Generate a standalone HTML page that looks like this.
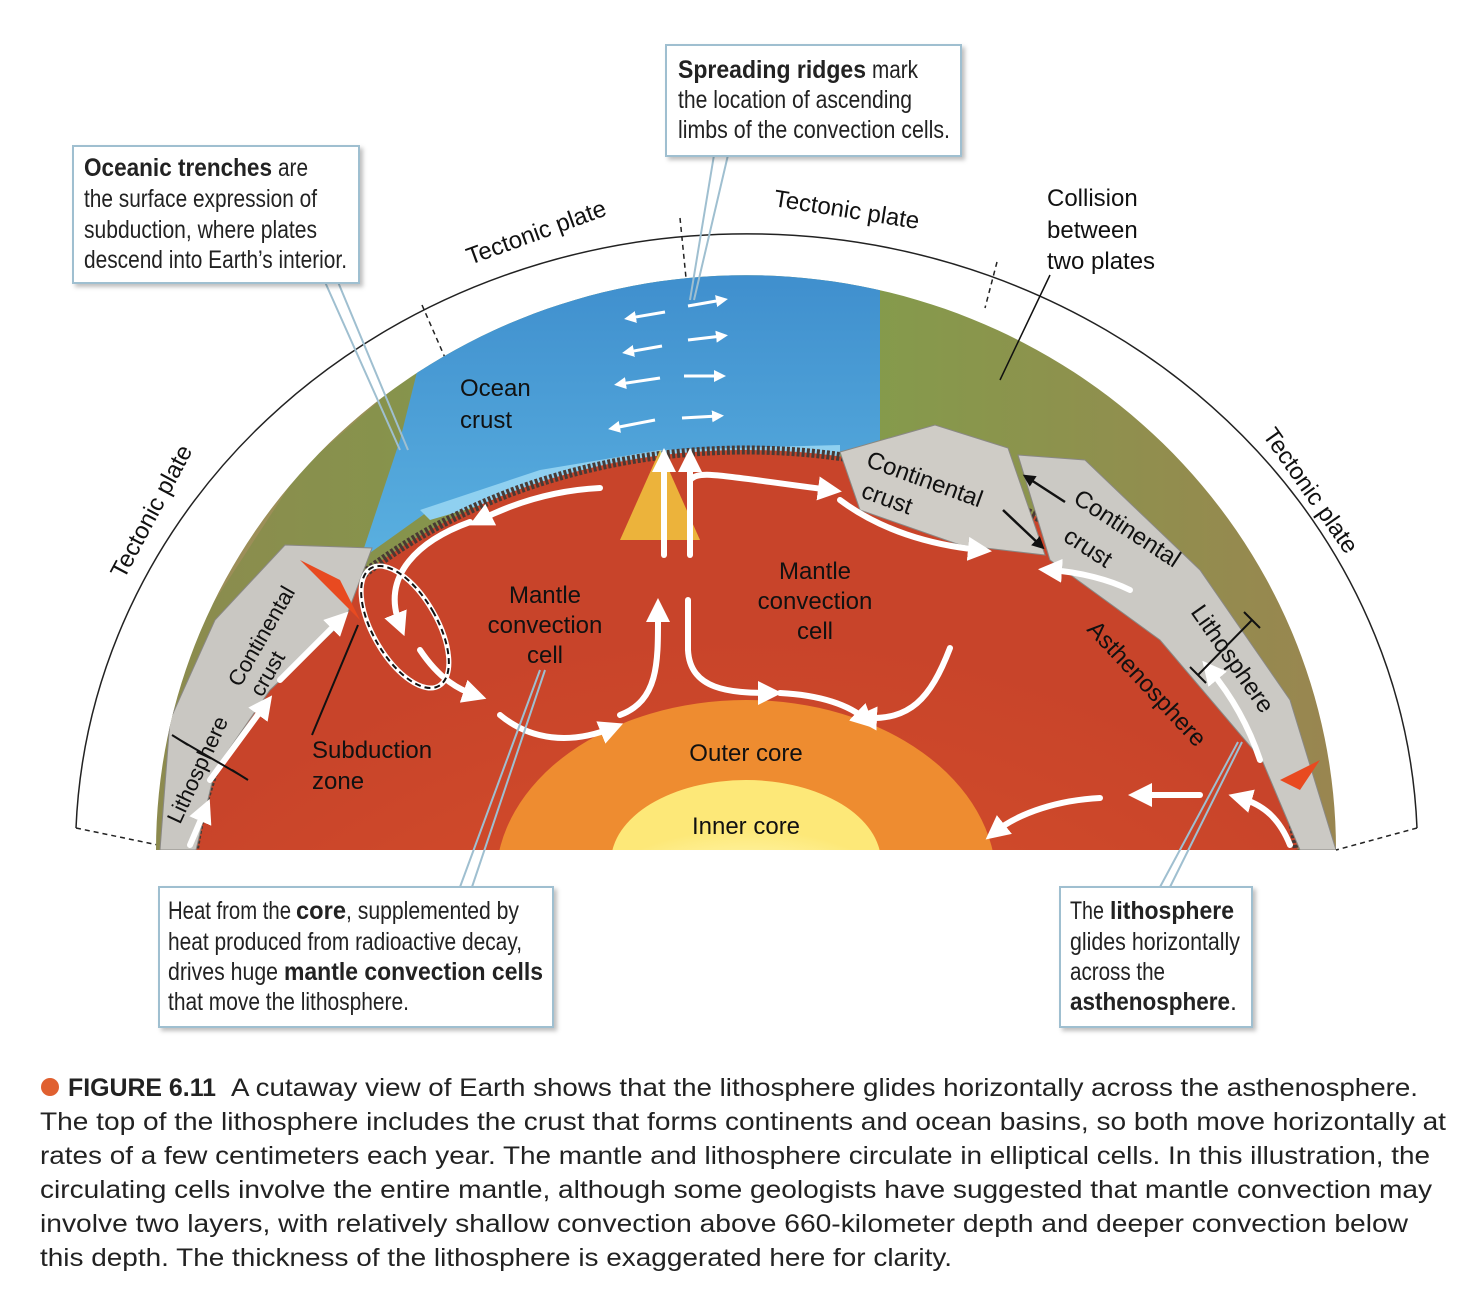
<!DOCTYPE html>
<html><head><meta charset="utf-8"><style>
body{margin:0;background:#fff;width:1484px;height:1296px;overflow:hidden;position:relative;font-family:"Liberation Sans",sans-serif}
</style></head><body>
<svg width="1484" height="1296" style="position:absolute;left:0;top:0">
<defs>
<clipPath id="earth"><path d="M156,850 A590,575 0 0 1 1336,850 Z"/></clipPath>
<linearGradient id="land" x1="0" y1="0" x2="1" y2="0"><stop offset="0" stop-color="#8c8a4e"/><stop offset="0.5" stop-color="#7fa04a"/><stop offset="1" stop-color="#9a8550"/></linearGradient>
<linearGradient id="sea" x1="0" y1="0" x2="0" y2="1"><stop offset="0" stop-color="#3d8ccc"/><stop offset="1" stop-color="#5ab0e0"/></linearGradient>
<radialGradient id="mantle" cx="0.5" cy="0.9" r="0.7"><stop offset="0" stop-color="#e0562a"/><stop offset="1" stop-color="#c8442a"/></radialGradient>
<radialGradient id="outer" cx="0.5" cy="0.95" r="0.6"><stop offset="0" stop-color="#ffe070"/><stop offset="0.6" stop-color="#f6b840"/><stop offset="1" stop-color="#ee8c30"/></radialGradient>
<radialGradient id="inner" cx="0.5" cy="1" r="0.7"><stop offset="0" stop-color="#ffffff"/><stop offset="0.5" stop-color="#fffbc0"/><stop offset="1" stop-color="#fde878"/></radialGradient>
<marker id="ah" markerWidth="4" markerHeight="4" refX="2" refY="2" orient="auto" markerUnits="strokeWidth"><path d="M0,0 L4,2 L0,4 Z" fill="#fff"/></marker>
<marker id="bh" markerWidth="5" markerHeight="5" refX="2.5" refY="2.5" orient="auto" markerUnits="strokeWidth"><path d="M0,0 L5,2.5 L0,5 Z" fill="#111"/></marker>
<filter id="sh"><feDropShadow dx="3" dy="3" stdDeviation="2" flood-opacity="0.25"/></filter>
</defs>
<path d="M76,828 A671,618 0 0 1 1417,828" fill="none" stroke="#222" stroke-width="1.5"/>
<path d="M76,828 L158,845 M1417,828 L1336,850" stroke="#222" stroke-width="1.5" stroke-dasharray="5,4"/>
<path d="M422,305 L446,360 M680,218 L686,278 M997,262 L985,308" stroke="#222" stroke-width="1.5" stroke-dasharray="5,4"/>
<g clip-path="url(#earth)">
<rect x="150" y="200" width="1200" height="650" fill="url(#land)"/>
<path d="M150,700 L300,470 L380,400 L430,330 L300,300 Z" fill="#a89060" opacity="0.6"/>
<path d="M1050,300 L1200,420 L1340,700 L1340,300 Z" fill="#a89060" opacity="0.45"/>
<path d="M360,560 L400,440 L440,280 L880,250 L880,440 L840,452 L660,455 L540,480 L430,510 Z" fill="url(#sea)"/>
<path d="M420,510 L540,470 L660,450 L840,445 L840,460 L660,462 L540,488 L430,520 Z" fill="#8fd0f0"/>
<ellipse cx="746" cy="900" rx="555" ry="450" fill="url(#mantle)"/>
<ellipse cx="746" cy="900" rx="555" ry="450" fill="none" stroke="#4a3a34" stroke-width="9" stroke-dasharray="3,2"/>
<path d="M160,850 L170,720 L215,620 L285,545 L372,548 L345,620 L270,690 L215,770 L196,850 Z" fill="#c9c7c2" stroke="#8a8884" stroke-width="1"/>
<path d="M840,452 L935,425 L1008,448 L1045,555 L960,545 L860,510 Z" fill="#cfccc6" stroke="#8a8884"/>
<path d="M1018,455 L1085,460 L1200,570 L1290,700 L1336,850 L1300,850 L1262,760 L1160,640 L1050,560 Z" fill="#cbc9c4" stroke="#8a8884"/>
<ellipse cx="746" cy="880" rx="250" ry="180" fill="url(#outer)"/>
<ellipse cx="746" cy="862" rx="135" ry="82" fill="url(#inner)"/>
<path d="M300,560 L360,620 L340,580 Z M1280,780 L1320,760 L1300,790 Z" fill="#e84a20"/>
<path d="M620,540 L660,450 L700,540 Z" fill="#f5d040" opacity="0.8"/>
</g>
<g stroke="#fff" stroke-width="3" fill="none" marker-end="url(#ah)">
<path d="M665,312 L630,318"/><path d="M688,306 L722,300"/>
<path d="M662,346 L628,352"/><path d="M688,340 L722,336"/>
<path d="M660,378 L620,384"/><path d="M684,376 L720,376"/>
<path d="M655,420 L614,428"/><path d="M682,418 L718,416"/>
</g>
<g stroke="#fff" stroke-width="6" fill="none" marker-end="url(#ah)" stroke-linecap="round">
<path d="M190,845 L205,810"/><path d="M210,780 L265,705"/><path d="M280,680 L340,620"/>
<path d="M600,488 C560,490 520,500 480,520"/>
<path d="M470,522 C420,540 380,575 400,625"/>
<path d="M420,650 C440,680 460,690 475,695"/>
<path d="M500,715 C530,740 570,745 612,728"/>
<path d="M620,715 C660,700 658,660 658,610"/>
<path d="M664,555 L664,460"/><path d="M690,555 L690,460"/>
<path d="M688,600 L688,650 C690,690 730,693 770,693"/>
<path d="M780,693 C820,695 850,705 866,720"/>
<path d="M950,648 C930,700 910,720 865,718"/>
<path d="M690,480 C700,470 715,475 830,490"/>
<path d="M840,500 C880,530 930,545 980,550"/>
<path d="M1130,590 C1110,580 1080,572 1050,570"/>
<path d="M1260,760 C1250,730 1235,700 1210,670"/>
<path d="M1200,795 L1140,795"/>
<path d="M1100,798 C1060,800 1020,812 995,832"/>
<path d="M1290,845 C1280,820 1265,805 1240,798"/>
</g>
<ellipse cx="405" cy="627" rx="32" ry="68" transform="rotate(-30 405 627)" fill="none" stroke="#fff" stroke-width="5"/>
<ellipse cx="405" cy="627" rx="32" ry="68" transform="rotate(-30 405 627)" fill="none" stroke="#111" stroke-width="2" stroke-dasharray="6,4"/>
<g stroke="#111" stroke-width="2.5" fill="none" marker-end="url(#bh)">
<path d="M1065,502 L1028,478"/><path d="M1003,510 L1040,545"/>
</g>
<g stroke="#9fbfd0" stroke-width="2" fill="none">
<path d="M325,282 L400,450 M338,282 L408,450"/>
<path d="M714,155 L690,300 M728,155 L694,300"/>
<path d="M460,887 L540,670 M472,887 L545,670"/>
<path d="M1160,887 L1238,742 M1170,887 L1242,742"/>
</g>
<path d="M1050,275 L1000,380" stroke="#111" stroke-width="1.5"/>
<path d="M358,625 L312,735" stroke="#111" stroke-width="2"/>
<g stroke="#111" stroke-width="2"><path d="M180,740 L240,775 M172,735 L188,745 M232,770 L248,780"/><path d="M1252,620 L1198,675 M1244,612 L1260,628 M1190,667 L1206,683"/></g>
<g font-family="Liberation Sans, sans-serif" font-size="24" fill="#111">
<text x="460" y="396">Ocean</text><text x="460" y="428">crust</text>
<text x="545" y="603" text-anchor="middle">Mantle</text><text x="545" y="633" text-anchor="middle">convection</text><text x="545" y="663" text-anchor="middle">cell</text>
<text x="815" y="579" text-anchor="middle">Mantle</text><text x="815" y="609" text-anchor="middle">convection</text><text x="815" y="639" text-anchor="middle">cell</text>
<text x="746" y="761" text-anchor="middle">Outer core</text>
<text x="746" y="834" text-anchor="middle">Inner core</text>
<text x="312" y="758">Subduction</text><text x="312" y="789">zone</text>
<text x="1047" y="206">Collision</text><text x="1047" y="238">between</text><text x="1047" y="269">two plates</text>
<text transform="translate(124,580) rotate(-62)">Tectonic plate</text>
<text transform="translate(470,265) rotate(-20)">Tectonic plate</text>
<text transform="translate(773,206) rotate(9)">Tectonic plate</text>
<text transform="translate(1262,435) rotate(55)">Tectonic plate</text>
<text transform="translate(240,688) rotate(-60)" font-size="22">Continental</text>
<text transform="translate(262,698) rotate(-60)" font-size="22">crust</text>
<text transform="translate(180,825) rotate(-65)" font-size="22">Lithosphere</text>
<text transform="translate(865,466) rotate(20)">Continental</text>
<text transform="translate(860,497) rotate(20)">crust</text>
<text transform="translate(1072,502) rotate(33)">Continental</text>
<text transform="translate(1062,540) rotate(33)">crust</text>
<text transform="translate(1190,612) rotate(55)">Lithosphere</text>
<text transform="translate(1086,630) rotate(47)">Asthenosphere</text>
</g>
<g fill="#fff" stroke="#9fbfd0" stroke-width="2" filter="url(#sh)">
<rect x="73" y="146" width="286" height="137"/>
<rect x="666" y="45" width="295" height="111"/>
<rect x="159" y="887" width="394" height="140"/>
<rect x="1060" y="887" width="192" height="140"/>
</g>
<g font-family="Liberation Sans, sans-serif" font-size="25" fill="#222">
<text x="84" y="176" font-weight="bold" textLength="188" lengthAdjust="spacingAndGlyphs">Oceanic trenches</text>
<text x="278" y="176" textLength="30" lengthAdjust="spacingAndGlyphs">are</text>
<text x="84" y="207" textLength="233" lengthAdjust="spacingAndGlyphs">the surface expression of</text>
<text x="84" y="238" textLength="233" lengthAdjust="spacingAndGlyphs">subduction, where plates</text>
<text x="84" y="268" textLength="263" lengthAdjust="spacingAndGlyphs">descend into Earth’s interior.</text>
<text x="678" y="78" font-weight="bold" textLength="188" lengthAdjust="spacingAndGlyphs">Spreading ridges</text>
<text x="872" y="78" textLength="46" lengthAdjust="spacingAndGlyphs">mark</text>
<text x="678" y="108" textLength="234" lengthAdjust="spacingAndGlyphs">the location of ascending</text>
<text x="678" y="138" textLength="272" lengthAdjust="spacingAndGlyphs">limbs of the convection cells.</text>
<text x="168" y="919" textLength="123" lengthAdjust="spacingAndGlyphs">Heat from the</text>
<text x="296" y="919" font-weight="bold" textLength="50" lengthAdjust="spacingAndGlyphs">core</text>
<text x="346" y="919" textLength="173" lengthAdjust="spacingAndGlyphs">, supplemented by</text>
<text x="168" y="950" textLength="354" lengthAdjust="spacingAndGlyphs">heat produced from radioactive decay,</text>
<text x="168" y="980" textLength="110" lengthAdjust="spacingAndGlyphs">drives huge</text>
<text x="284" y="980" font-weight="bold" textLength="259" lengthAdjust="spacingAndGlyphs">mantle convection cells</text>
<text x="168" y="1010" textLength="241" lengthAdjust="spacingAndGlyphs">that move the lithosphere.</text>
<text x="1070" y="919" textLength="34" lengthAdjust="spacingAndGlyphs">The</text>
<text x="1110" y="919" font-weight="bold" textLength="124" lengthAdjust="spacingAndGlyphs">lithosphere</text>
<text x="1070" y="950" textLength="170" lengthAdjust="spacingAndGlyphs">glides horizontally</text>
<text x="1070" y="980" textLength="95" lengthAdjust="spacingAndGlyphs">across the</text>
<text x="1070" y="1010" font-weight="bold" textLength="160" lengthAdjust="spacingAndGlyphs">asthenosphere</text>
<text x="1230" y="1010">.</text>
</g>
<circle cx="50" cy="1087" r="9" fill="#e06030"/>
<g font-family="Liberation Sans, sans-serif" font-size="25" fill="#222">
<text x="68" y="1096" font-weight="bold" textLength="148" lengthAdjust="spacingAndGlyphs">FIGURE 6.11</text>
<text x="231" y="1096" textLength="1187" lengthAdjust="spacingAndGlyphs">A cutaway view of Earth shows that the lithosphere glides horizontally across the asthenosphere.</text>
<text x="40" y="1130" textLength="1406" lengthAdjust="spacingAndGlyphs">The top of the lithosphere includes the crust that forms continents and ocean basins, so both move horizontally at</text>
<text x="40" y="1164" textLength="1390" lengthAdjust="spacingAndGlyphs">rates of a few centimeters each year. The mantle and lithosphere circulate in elliptical cells. In this illustration, the</text>
<text x="40" y="1198" textLength="1392" lengthAdjust="spacingAndGlyphs">circulating cells involve the entire mantle, although some geologists have suggested that mantle convection may</text>
<text x="40" y="1232" textLength="1368" lengthAdjust="spacingAndGlyphs">involve two layers, with relatively shallow convection above 660-kilometer depth and deeper convection below</text>
<text x="40" y="1266" textLength="912" lengthAdjust="spacingAndGlyphs">this depth. The thickness of the lithosphere is exaggerated here for clarity.</text>
</g>
</svg>
</body></html>
